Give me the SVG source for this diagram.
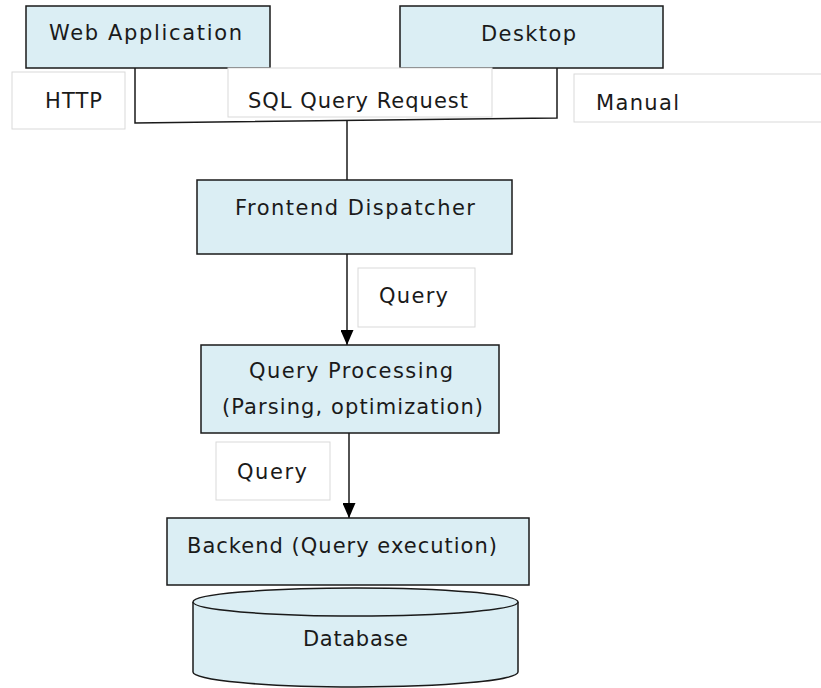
<svg xmlns="http://www.w3.org/2000/svg" width="821" height="688" viewBox="0 0 821 688">
<defs>
<style>
.node{fill:#DBEEF4;stroke:#1a1a1a;stroke-width:1.5}
.lbl{fill:#ffffff;stroke:#d9d9d9;stroke-width:1}
.t{font-family:"DejaVu Sans","Open Sans",sans-serif;font-size:21px;fill:#1a1a1a}
.c{stroke:#1a1a1a;stroke-width:1.5;fill:none}
</style>
<marker id="ah" viewBox="0 0 15 13" refX="15" refY="6.5" markerWidth="15" markerHeight="13" markerUnits="userSpaceOnUse" orient="auto">
<path d="M0,0 L15,6.5 L0,13 Z" fill="#000"/>
</marker>
</defs>
<rect width="821" height="688" fill="#ffffff"/>
<g id="connectors">
<polyline class="c" points="135,68 135,123 557,118 557,68"/>
<line class="c" x1="347" y1="120" x2="347" y2="180"/>
<line class="c" x1="347" y1="254" x2="347" y2="345" marker-end="url(#ah)"/>
<line class="c" x1="349" y1="433" x2="349" y2="518" marker-end="url(#ah)"/>
</g>
<g id="web-application">
<rect class="node" x="26" y="6" width="244" height="62"/>
<text class="t" x="49" y="40" textLength="193" lengthAdjust="spacing">Web Application</text>
</g>
<g id="desktop">
<rect class="node" x="400" y="6" width="263" height="62"/>
<text class="t" x="481" y="41" textLength="95" lengthAdjust="spacing">Desktop</text>
</g>
<g id="label-http">
<rect class="lbl" x="12" y="72" width="113" height="57"/>
<text class="t" x="45" y="108" textLength="57" lengthAdjust="spacing">HTTP</text>
</g>
<g id="label-sql">
<rect class="lbl" x="228" y="68" width="264" height="49"/>
<text class="t" x="248" y="108" textLength="220" lengthAdjust="spacing">SQL Query Request</text>
</g>
<g id="label-manual">
<rect class="lbl" x="574" y="74" width="250" height="48"/>
<text class="t" x="596" y="110" textLength="83" lengthAdjust="spacing">Manual</text>
</g>
<g id="frontend-dispatcher">
<rect class="node" x="197" y="180" width="315" height="74"/>
<text class="t" x="235" y="215" textLength="240" lengthAdjust="spacing">Frontend Dispatcher</text>
</g>
<g id="label-query-1">
<rect class="lbl" x="358" y="268" width="117" height="59"/>
<text class="t" x="379" y="303" textLength="69" lengthAdjust="spacing">Query</text>
</g>
<g id="query-processing">
<rect class="node" x="201" y="345" width="298" height="88"/>
<text class="t" x="249" y="378" textLength="204" lengthAdjust="spacing">Query Processing</text>
<text class="t" x="222" y="414" textLength="261" lengthAdjust="spacing">(Parsing, optimization)</text>
</g>
<g id="label-query-2">
<rect class="lbl" x="216" y="442" width="114" height="58"/>
<text class="t" x="237" y="479" textLength="70" lengthAdjust="spacing">Query</text>
</g>
<g id="backend">
<rect class="node" x="167" y="518" width="362" height="67"/>
<text class="t" x="187" y="553" textLength="310" lengthAdjust="spacing">Backend (Query execution)</text>
</g>
<g id="database">
<path class="node" d="M193,602 L193,672 A162.5,15 0 0 0 518,672 L518,602"/>
<ellipse class="node" cx="355.5" cy="602" rx="162.5" ry="14"/>
<text class="t" x="303" y="646" textLength="105" lengthAdjust="spacing">Database</text>
</g>
</svg>
